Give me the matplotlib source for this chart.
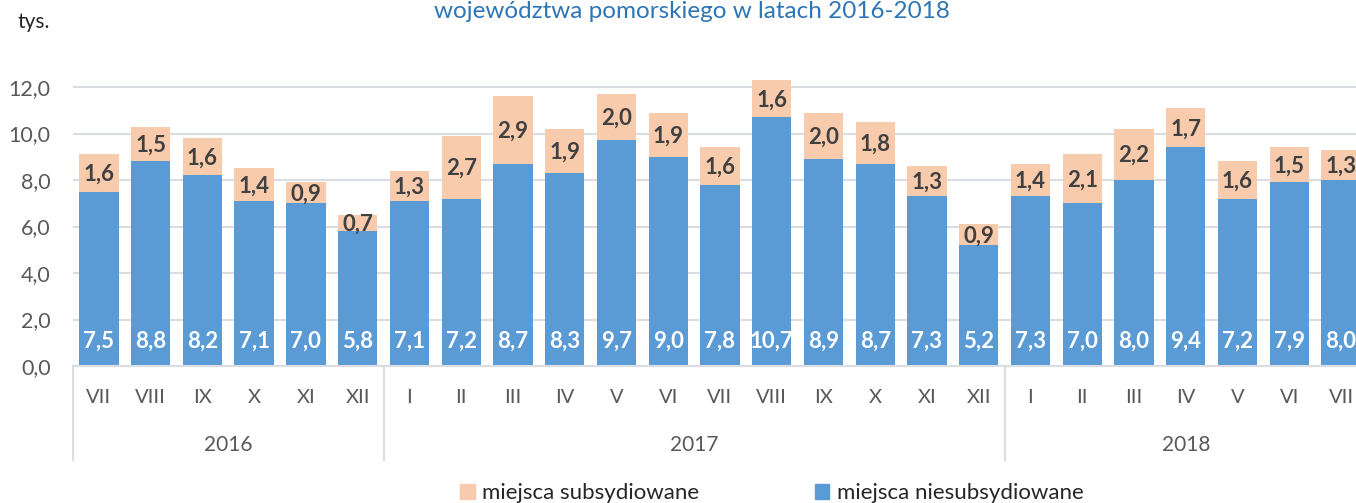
import numpy as np
import matplotlib.pyplot as plt
from matplotlib.transforms import blended_transform_factory
from matplotlib.patches import Patch

plt.rcParams['font.family'] = ['Lato', 'DejaVu Sans']

years = ["2016", "2017", "2018"]
months_2016 = ["VII", "VIII", "IX", "X", "XI", "XII"]
months_2017 = ["I", "II", "III", "IV", "V", "VI", "VII", "VIII", "IX", "X", "XI", "XII"]
months_2018 = ["I", "II", "III", "IV", "V", "VI", "VII"]

niesubs_2016 = [7.5, 8.8, 8.2, 7.1, 7.0, 5.8]
niesubs_2017 = [7.1, 7.2, 8.7, 8.3, 9.7, 9.0, 7.8, 10.7, 8.9, 8.7, 7.3, 5.2]
niesubs_2018 = [7.3, 7.0, 8.0, 9.4, 7.2, 7.9, 8.0]

subs_2016 = [1.6, 1.5, 1.6, 1.4, 0.9, 0.7]
subs_2017 = [1.3, 2.7, 2.9, 1.9, 2.0, 1.9, 1.6, 1.6, 2.0, 1.8, 1.3, 0.9]
subs_2018 = [1.4, 2.1, 2.2, 1.7, 1.6, 1.5, 1.3]

BLUE = "#5B9BD5"
ORANGE = "#F8CBAD"
GREY = "#595959"
GRID = "#DADDE3"

months = months_2016 + months_2017 + months_2018
niesubs = np.array(niesubs_2016 + niesubs_2017 + niesubs_2018)
subs = np.array(subs_2016 + subs_2017 + subs_2018)
groups = [len(months_2016), len(months_2017), len(months_2018)]
x = np.arange(len(months))

fig = plt.figure(figsize=(13.56, 5.03), dpi=100)
ax = fig.add_axes([73 / 1356, 137 / 503, 1 - 73 / 1356, (366 - 40.5) / 503])

ax.bar(x, niesubs, width=0.76, color=BLUE, zorder=2)
ax.bar(x, subs, width=0.76, bottom=niesubs, color=ORANGE, zorder=2)

def fmt(v):
    return f"{v:.1f}".replace(".", ",")

for xi, n, s in zip(x, niesubs, subs):
    ax.text(xi, 1.05, fmt(n), ha="center", va="center", color="white",
            fontsize=16, fontweight="bold", zorder=3)
    ax.text(xi, n + s / 2 - 0.05, fmt(s), ha="center", va="center", color="#404040",
            fontsize=16, fontweight="bold", zorder=3)

ax.set_xlim(-0.5, 24 + 15 / 51.8)
ax.set_ylim(0, 14)
ax.set_yticks(np.arange(0, 13, 2))
ax.set_yticklabels([fmt(v) for v in np.arange(0, 13, 2)], color=GREY, fontsize=15.5)
ax.yaxis.grid(True, color=GRID, linewidth=1.5, zorder=0)
ax.tick_params(axis="y", length=0, pad=16)
ax.set_xticks([])
for side in ["top", "right", "left"]:
    ax.spines[side].set_visible(False)
ax.spines["bottom"].set_color(GRID)
ax.spines["bottom"].set_linewidth(1.5)

trans = blended_transform_factory(ax.transData, ax.transAxes)
for xi, m in zip(x, months):
    ax.text(xi, -0.098, m, transform=trans, ha="center", va="center",
            color=GREY, fontsize=14.5)

start = 0
seps = [-0.5]
for yr, g in zip(years, groups):
    ax.text(start + (g - 1) / 2, -0.243, yr, transform=trans, ha="center", va="center",
            color=GREY, fontsize=15)
    start += g
    seps.append(start - 0.5)
for sx in seps[:-1]:
    ax.plot([sx, sx], [0, -0.289], transform=trans, color=GRID, linewidth=1.5, clip_on=False)

fig.text(18 / 1356, 1 - 22 / 503, "tys.", color="#262626", fontsize=15, ha="left", va="center")
fig.text(692 / 1356, 1 - 11 / 503, "województwa pomorskiego w latach 2016-2018",
         color="#2E75B6", fontsize=17.5, ha="center", va="center")

handles = [Patch(color=ORANGE, label="miejsca subsydiowane"),
           Patch(color=BLUE, label="miejsca niesubsydiowane")]
fig.legend(handles=handles, loc="center", bbox_to_anchor=(772 / 1356, 10 / 503), ncol=2,
           frameon=False, fontsize=16, handlelength=0.65, handleheight=0.65,
           handletextpad=0.35, columnspacing=5.2, labelcolor="#262626")

fig.savefig("out.png", dpi=100)
